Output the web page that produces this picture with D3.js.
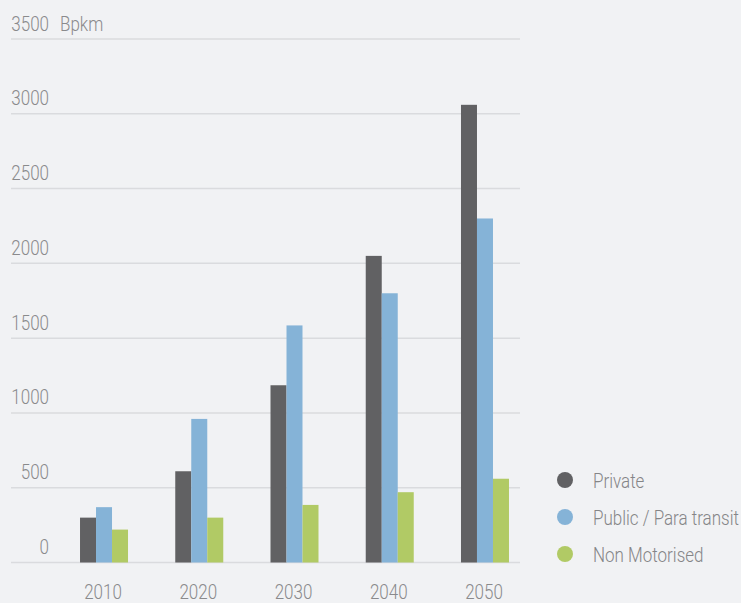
<!DOCTYPE html>
<html>
<head>
<meta charset="utf-8">
<script src="https://cdn.jsdelivr.net/npm/d3@7"></script>
<style>
  html, body { margin: 0; padding: 0; background: #f1f2f4; }
  svg { display: block; }
  text { font-family: Roboto, "Noto Sans", sans-serif; font-weight: 300; fill: #8a8a8c; }
</style>
</head>
<body>
<svg id="chart" width="741" height="603"></svg>
<script>
// Passenger transport demand, billion passenger-km
const years = ["2010", "2020", "2030", "2040", "2050"];
const seriesNames = ["Private", "Public / Para transit", "Non Motorised"];
const privateVals = [300, 610, 1185, 2050, 3060];
const publicVals = [370, 960, 1585, 1800, 2300];
const nonMotorisedVals = [220, 300, 385, 470, 560];
const yTicks = [0, 500, 1000, 1500, 2000, 2500, 3000, 3500];
const unitLabel = "Bpkm";
const colors = ["#616163", "#85b3d7", "#b1ca65"];

const seriesValues = [privateVals, publicVals, nonMotorisedVals];

const svg = d3.select("#chart");
const squeeze = 0.85; // narrow the lettering

const y = d3.scaleLinear().domain([0, 3500]).range([562.5, 39]);
const x = d3.scaleBand().domain(years).range([56.4, 532.6])
  .paddingInner(0.496).paddingOuter(0.248);
const xs = d3.scaleBand().domain(d3.range(seriesNames.length)).range([0, x.bandwidth()]);

// grid lines
svg.append("g").selectAll("line").data(yTicks).join("line")
  .attr("x1", 11).attr("x2", 520)
  .attr("y1", d => y(d)).attr("y2", d => y(d))
  .attr("stroke", "#dadbde").attr("stroke-width", 1.5);

// y tick labels, sitting just above each line
svg.append("g").selectAll("text").data(yTicks).join("text")
  .attr("transform", d => `translate(49,${y(d) - 8.5}) scale(${squeeze},1)`)
  .attr("text-anchor", "end")
  .style("font-size", "20px")
  .text(d => d);

svg.append("text")
  .attr("transform", `translate(60,${y(3500) - 8.5}) scale(${squeeze},1)`)
  .style("font-size", "20px")
  .text(unitLabel);

// bars
const groups = svg.append("g").selectAll("g").data(years).join("g")
  .attr("transform", d => `translate(${x(d)},0)`);
groups.selectAll("rect")
  .data((yr, i) => seriesValues.map((vals, s) => ({ s, v: vals[i] })))
  .join("rect")
  .attr("x", d => xs(d.s))
  .attr("width", xs.bandwidth())
  .attr("y", d => y(d.v))
  .attr("height", d => y(0) - y(d.v))
  .attr("fill", d => colors[d.s]);

// year labels
svg.append("g").selectAll("text").data(years).join("text")
  .attr("transform", d => `translate(${x(d) + x.bandwidth() / 2 - 1},599) scale(${squeeze},1)`)
  .attr("text-anchor", "middle")
  .style("font-size", "20px")
  .text(d => d);

// legend
const legend = svg.append("g").selectAll("g").data(seriesNames).join("g")
  .attr("transform", (d, i) => `translate(565,${480 + i * 37})`);
legend.append("circle").attr("r", 8).attr("fill", (d, i) => colors[i]);
legend.append("text")
  .attr("transform", `translate(28,7.5) scale(${squeeze},1)`)
  .style("font-size", "20px")
  .style("fill", "#858587")
  .text(d => d);
</script>
</body>
</html>
